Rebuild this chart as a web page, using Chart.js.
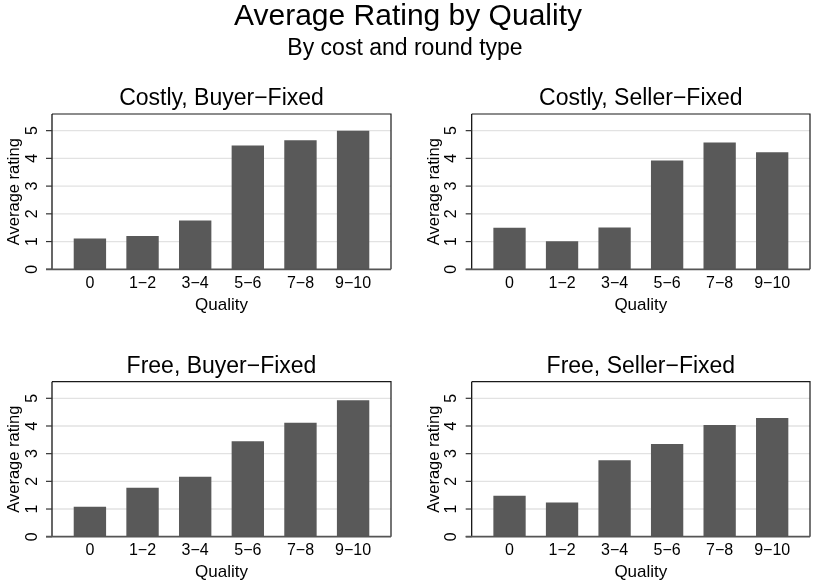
<!DOCTYPE html>
<html>
<head>
<meta charset="utf-8">
<script src="https://cdn.jsdelivr.net/npm/chart.js@4.4.1/dist/chart.umd.min.js"></script>
<style>
  html, body { margin: 0; padding: 0; background: #ffffff; }
  #wrap { position: relative; width: 817px; height: 584px; overflow: hidden; background: #ffffff; }
  #wrap canvas { position: absolute; left: 0; top: 0; }
</style>
</head>
<body>
<div id="wrap">
  <canvas id="c1" width="817" height="584"></canvas>
  <canvas id="c2" width="817" height="584"></canvas>
  <canvas id="c3" width="817" height="584"></canvas>
  <canvas id="c4" width="817" height="584"></canvas>
</div>
<script>
// Quality bins on the horizontal axis
const qualityBins = ['0', '1\u22122', '3\u22124', '5\u22126', '7\u22128', '9\u221210'];
// Rating ticks on the vertical axis
const ratingTicks = [0, 1, 2, 3, 4, 5];

// Average rating per quality bin, one array per treatment
const costlyBuyerFixed  = [1.11, 1.20, 1.76, 4.46, 4.65, 5.00];
const costlySellerFixed = [1.50, 1.01, 1.51, 3.92, 4.57, 4.22];
const freeBuyerFixed    = [1.08, 1.77, 2.17, 3.45, 4.12, 4.93];
const freeSellerFixed   = [1.48, 1.24, 2.76, 3.35, 4.04, 4.29];

const panelTitles = ['Costly, Buyer\u2212Fixed', 'Costly, Seller\u2212Fixed', 'Free, Buyer\u2212Fixed', 'Free, Seller\u2212Fixed'];
const mainTitle = 'Average Rating by Quality';
const subTitle = 'By cost and round type';
const xTitle = 'Quality';
const yTitle = 'Average rating';

const FONT = '"Liberation Sans", Arial, Helvetica, sans-serif';
const W = 817, H = 584;

// plot-region frames: [left, top, right, bottom]
const frames = [
  [52, 114, 391, 269.3],
  [471.7, 114, 810, 269.3],
  [52, 381.7, 391, 536.7],
  [471.7, 381.7, 810, 536.7]
];

const framePlugin = {
  id: 'panelFrame',
  beforeDatasetsDraw(chart) {
    const ctx = chart.ctx, a = chart.chartArea, ys = chart.scales.y;
    ctx.save();
    ctx.strokeStyle = '#e2e2e2';
    ctx.lineWidth = 1.3;
    ratingTicks.forEach(v => {
      if (v === 0) return;
      const y = ys.getPixelForValue(v);
      ctx.beginPath(); ctx.moveTo(a.left, y); ctx.lineTo(a.right, y); ctx.stroke();
    });
    ctx.restore();
  },
  afterDatasetsDraw(chart, args, opts) {
    const ctx = chart.ctx, a = chart.chartArea, ys = chart.scales.y, xs = chart.scales.x;
    ctx.save();
    // top and right edges of the plot region
    ctx.strokeStyle = '#1a1a1a';
    ctx.lineWidth = 1.2;
    ctx.beginPath();
    ctx.moveTo(a.left, a.top); ctx.lineTo(a.right, a.top); ctx.lineTo(a.right, a.bottom);
    ctx.stroke();
    // y axis line and tick marks
    ctx.strokeStyle = '#000000';
    ctx.lineWidth = 1.2;
    ctx.beginPath(); ctx.moveTo(a.left, a.top); ctx.lineTo(a.left, a.bottom); ctx.stroke();
    ctx.strokeStyle = '#333333';
    ratingTicks.forEach(v => {
      const y = ys.getPixelForValue(v);
      ctx.beginPath(); ctx.moveTo(a.left - 6, y); ctx.lineTo(a.left, y); ctx.stroke();
    });
    // x axis line
    ctx.strokeStyle = '#555555';
    ctx.lineWidth = 1.8;
    ctx.beginPath(); ctx.moveTo(a.left - 6, a.bottom); ctx.lineTo(a.right, a.bottom); ctx.stroke();

    ctx.fillStyle = '#000000';
    // rotated y tick labels
    ctx.font = '16px ' + FONT;
    ctx.textAlign = 'center';
    ctx.textBaseline = 'alphabetic';
    ratingTicks.forEach(v => {
      const y = ys.getPixelForValue(v);
      ctx.save(); ctx.translate(a.left - 15.5, y); ctx.rotate(-Math.PI / 2);
      ctx.fillText(String(v), 0, 0); ctx.restore();
    });
    // y axis title
    ctx.font = '16.5px ' + FONT;
    ctx.save(); ctx.translate(a.left - 33, (a.top + a.bottom) / 2); ctx.rotate(-Math.PI / 2);
    ctx.fillText(yTitle, 0, 0); ctx.restore();
    // x tick labels under each bar
    ctx.font = '16px ' + FONT;
    qualityBins.forEach((lab, i) => {
      ctx.fillText(lab, xs.getPixelForValue(i), a.bottom + 18.3);
    });
    // x axis title
    ctx.font = '17px ' + FONT;
    ctx.fillText(xTitle, (a.left + a.right) / 2, a.bottom + 40.3);
    // panel title
    ctx.font = '23px ' + FONT;
    ctx.fillText(opts.title, (a.left + a.right) / 2, a.top - 9);
    // page heading (first panel only)
    if (opts.heading) {
      ctx.font = '30px ' + FONT;
      ctx.fillText(mainTitle, 408, 25);
      ctx.font = '23px ' + FONT;
      ctx.fillText(subTitle, 405, 55);
    }
    ctx.restore();
  }
};

const seriesList = [costlyBuyerFixed, costlySellerFixed, freeBuyerFixed, freeSellerFixed];

seriesList.forEach((vals, k) => {
  const f = frames[k];
  new Chart(document.getElementById('c' + (k + 1)), {
    type: 'bar',
    data: {
      datasets: [{
        data: vals.map((v, i) => ({ x: i, y: v })),
        backgroundColor: '#595959',
        borderWidth: 0,
        barPercentage: 0.615,
        categoryPercentage: 1.0
      }]
    },
    options: {
      responsive: false,
      animation: false,
      devicePixelRatio: 1,
      layout: { padding: { left: f[0], top: f[1], right: W - f[2], bottom: H - f[3] } },
      scales: {
        x: { type: 'linear', offset: false, min: -0.72, max: qualityBins.length - 1 + 0.72, display: false },
        y: { type: 'linear', min: 0, max: 5.6, display: false }
      },
      plugins: {
        legend: { display: false },
        tooltip: { enabled: false },
        panelFrame: { title: panelTitles[k], heading: k === 0 }
      }
    },
    plugins: [framePlugin]
  });
});
</script>
</body>
</html>
